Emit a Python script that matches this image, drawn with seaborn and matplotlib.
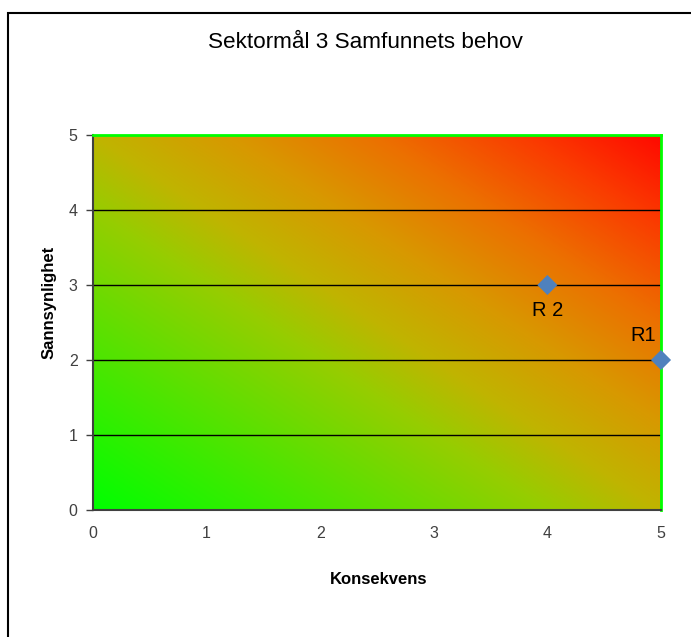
import numpy as np
import pandas as pd
import matplotlib
matplotlib.use('Agg')
import matplotlib.pyplot as plt
from matplotlib.colors import LinearSegmentedColormap
from matplotlib.patches import Rectangle
import seaborn as sns

# chart data
risk_names = ['R1', 'R 2']
konsekvens = [5, 4]
sannsynlighet = [2, 3]
ticks = [0, 1, 2, 3, 4, 5]
title = 'Sektormål 3 Samfunnets behov'

sns.set_style('white')
plt.rcParams['font.family'] = ['Liberation Sans', 'DejaVu Sans']
plt.rcParams['text.color'] = 'black'
plt.rcParams['axes.labelcolor'] = 'black'

fig = plt.figure(figsize=(6.91, 6.37), dpi=100)
ax = fig.add_axes([93 / 691, 1 - 510 / 637, 568 / 691, 375 / 637])

# outer chart border (runs off the right/bottom of the picture)
fig.patches.append(Rectangle((8 / 691, -0.05), 1.0, 1 - 13 / 637 + 0.05,
                             transform=fig.transFigure, fill=False,
                             edgecolor='black', linewidth=1.5))

# diagonal green -> red gradient background
cmap = LinearSegmentedColormap.from_list('risk', [
    (0.0, (0 / 255, 255 / 255, 0)),
    (0.4, (150 / 255, 205 / 255, 0)),
    (0.5, (192 / 255, 180 / 255, 0)),
    (0.62, (216 / 255, 152 / 255, 0)),
    (0.75, (236 / 255, 112 / 255, 0)),
    (0.88, (250 / 255, 60 / 255, 0)),
    (1.0, (255 / 255, 10 / 255, 0)),
])
gx, gy = np.meshgrid(np.linspace(0, 1, 300), np.linspace(0, 1, 300))
ax.imshow((gx + gy) / 2, cmap=cmap, extent=[0, 5, 0, 5], origin='lower',
          aspect='auto', zorder=0, interpolation='bilinear')

ax.hlines([1, 2, 3, 4], 0, 5, colors='black', linewidth=1, zorder=1)

df = pd.DataFrame({'Konsekvens': konsekvens, 'Sannsynlighet': sannsynlighet,
                   'navn': risk_names})
sns.scatterplot(data=df, x='Konsekvens', y='Sannsynlighet', ax=ax,
                marker='D', s=105, color='#4F81BD', edgecolor='none',
                zorder=3, clip_on=False)

# labels for the points
ax.annotate(risk_names[1], (konsekvens[1], sannsynlighet[1]),
            xytext=(0, -18), textcoords='offset points', ha='center',
            va='center', fontsize=14.5)
ax.annotate(risk_names[0], (konsekvens[0], sannsynlighet[0]),
            xytext=(-13, 17.5), textcoords='offset points', ha='center',
            va='center', fontsize=14.5)

ax.set_xlim(0, 5)
ax.set_ylim(0, 5)
ax.set_xticks(ticks)
ax.set_yticks(ticks)
ax.tick_params(axis='both', labelsize=11.5, labelcolor='#404040')
ax.tick_params(axis='y', left=True, length=5, width=1, color='#404040', pad=6)
ax.tick_params(axis='x', bottom=False, pad=8)

for side in ['left', 'bottom']:
    ax.spines[side].set_color('#404040')
    ax.spines[side].set_linewidth(1.5)
for side in ['top', 'right']:
    ax.spines[side].set_visible(True)
    ax.spines[side].set_color('#00FF00')
    ax.spines[side].set_linewidth(2)

ax.set_xlabel('Konsekvens', fontsize=12, fontweight='bold', va='center')
ax.set_ylabel('Sannsynlighet', fontsize=12, fontweight='bold', va='center')
ax.xaxis.set_label_coords((379 - 93) / 568, -(580 - 510) / 375)
ax.yaxis.set_label_coords(-(93 - 49) / 568, (510 - 302) / 375)
fig.text(365 / 691, 1 - 42 / 637, title, ha='center', va='center',
         fontsize=16.2)

fig.savefig('out.png', dpi=100)
